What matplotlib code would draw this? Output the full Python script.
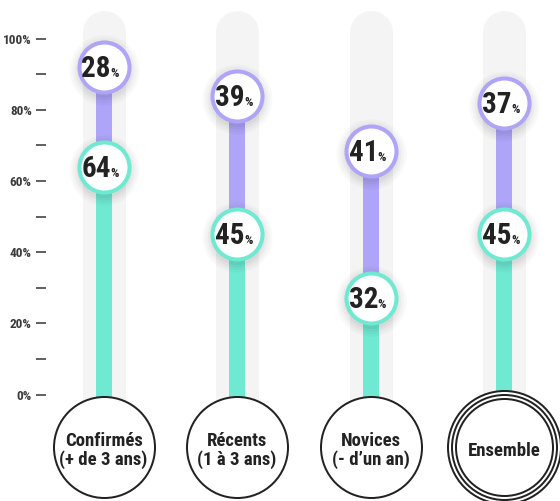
import os
import matplotlib
matplotlib.use("Agg")
import matplotlib.pyplot as plt
from matplotlib import font_manager as fm
from matplotlib.ticker import FixedLocator, FuncFormatter

# ---------------- data ----------------
categories = ["Confirmés\n(+ de 3 ans)", "Récents\n(1 à 3 ans)", "Novices\n(- d’un an)", "Ensemble"]
teal_level = [64, 45, 27, 45]          # level where the teal segment ends (as drawn)
purple_level = [92, 84, 68.5, 82]      # level where the purple segment ends (as drawn)
teal_labels = [64, 45, 32, 45]
purple_labels = [28, 39, 41, 37]
y_ticks = [0, 10, 20, 30, 40, 50, 60, 70, 80, 90, 100]
y_labeled = [0, 20, 40, 60, 80, 100]

TEAL = "#6FE9D2"
PURPLE = "#AEA4F8"
TRACK = "#F4F4F4"
INK = "#222222"

# ---------------- font ----------------
prefs = ["notosans-extracondensedbold", "robotocondensed-bold", "opensans_condensed-bold",
         "opensanscondensed-bold", "notosans-condensedbold", "liberationsansnarrow-bold",
         "dejavusanscondensed-bold"]
files = {os.path.basename(f.fname).lower().rsplit(".", 1)[0]: f.fname for f in fm.fontManager.ttflist}
fp = None
for p in prefs:
    if p in files:
        fp = fm.FontProperties(fname=files[p])
        break
if fp is None:
    fp = fm.FontProperties(family="DejaVu Sans", weight="bold", stretch="condensed")

def F(size):
    f = fp.copy()
    f.set_size(size)
    return f

# ---------------- figure ----------------
W, H = 560, 501
fig = plt.figure(figsize=(W / 100, H / 100), dpi=100)
y0_px, y100_px = 394.5, 38.7
x_left_px = 40.5
ax = fig.add_axes([x_left_px / W, (H - y0_px) / H, (W - x_left_px) / W, (y0_px - y100_px) / H])
ppu = (y0_px - y100_px) / 100.0  # pixels per percent

col0_px, col_step_px = 103.5, 133.5
ax.set_xlim((x_left_px - col0_px) / col_step_px, (W - col0_px) / col_step_px)
ax.set_ylim(0, 100)
for s in ax.spines.values():
    s.set_visible(False)
ax.xaxis.set_visible(False)
ax.yaxis.set_major_locator(FixedLocator(y_ticks))
ax.yaxis.set_major_formatter(FuncFormatter(lambda v, p: f"{int(v)}%" if int(v) in y_labeled else ""))
ax.tick_params(axis="y", direction="inout", length=6.5, width=1.1, color="#333333", pad=3)
for lab in ax.get_yticklabels():
    lab.set_fontproperties(F(9.5))
    lab.set_color("#3a3a3a")

def px2pt(p):
    return p * 0.72

track_top = (y0_px - 31.5) / ppu
track_bottom = -10
bottom_center = (y0_px - 446.5) / ppu

for i in range(len(categories)):
    # grey track
    ax.plot([i, i], [track_bottom, track_top], color=TRACK, lw=px2pt(43),
            solid_capstyle="round", zorder=1, clip_on=False)
    # bars
    ax.plot([i, i], [track_bottom, teal_level[i]], color=TEAL, lw=px2pt(16),
            solid_capstyle="butt", zorder=2, clip_on=False)
    ax.plot([i, i], [teal_level[i], purple_level[i]], color=PURPLE, lw=px2pt(16),
            solid_capstyle="butt", zorder=2, clip_on=False)

    # value circles
    for lvl, val, col in [(teal_level[i], teal_labels[i], TEAL), (purple_level[i], purple_labels[i], PURPLE)]:
        # soft shadow
        for k, a in enumerate([0.025, 0.025, 0.03, 0.035]):
            ax.plot(i, lvl - 3 / ppu, "o", ms=px2pt(70 - 5 * k), mew=0, color="black",
                    alpha=a, zorder=3, clip_on=False)
        ax.plot(i, lvl, "o", ms=px2pt(50), mfc="white", mec=col, mew=px2pt(4),
                zorder=4, clip_on=False)
        ax.annotate(str(val), (i, lvl), xytext=(px2pt(7.5), px2pt(-10)), textcoords="offset points",
                    ha="right", va="baseline", fontproperties=F(21), color=INK, zorder=5,
                    annotation_clip=False)
        ax.annotate("%", (i, lvl), xytext=(px2pt(7), px2pt(-10)), textcoords="offset points",
                    ha="left", va="baseline", fontproperties=F(9.5), color=INK, zorder=5,
                    annotation_clip=False)

    # bottom category circles
    if i == len(categories) - 1:
        for r in (57.5, 53.5, 49.5):
            ax.plot(i, bottom_center, "o", ms=px2pt(2 * r - 2), mfc="white", mec=INK,
                    mew=px2pt(2), zorder=4, clip_on=False)
    else:
        ax.plot(i, bottom_center, "o", ms=px2pt(101), mfc="white", mec=INK,
                mew=px2pt(2), zorder=4, clip_on=False)
    ax.annotate(categories[i], (i, bottom_center), xytext=(0, px2pt(-4)), textcoords="offset points",
                ha="center", va="center", fontproperties=F(13.5), color=INK, zorder=5,
                linespacing=1.05, annotation_clip=False)

fig.savefig("out.png", dpi=100)
